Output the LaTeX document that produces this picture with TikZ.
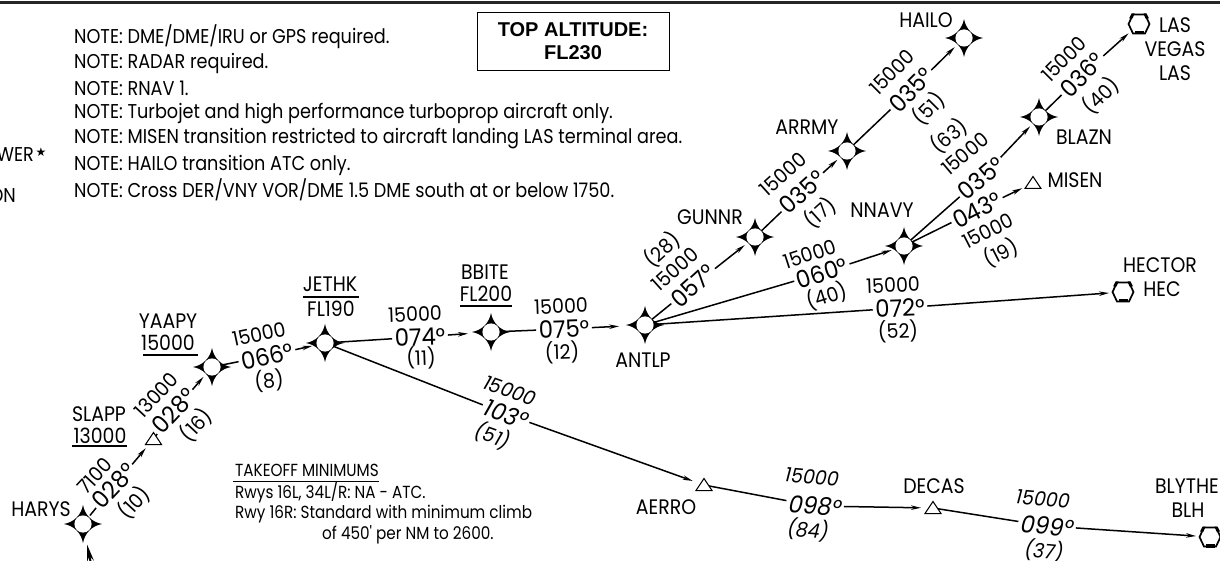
\documentclass[tikz,border=0pt]{standalone}
\usepackage{fontspec}
\usetikzlibrary{arrows.meta,calc}
\setmainfont{Liberation Sans}
\newfontfamily\fut[FakeStretch=0.95]{Poppins}
\newfontfamily\futname[FakeStretch=0.9]{Poppins}
\newfontfamily\futnote[FakeStretch=0.883]{Poppins}
\newfontfamily\futsmall[FakeStretch=0.87]{Poppins}
\newfontfamily\dejavu{DejaVu Sans}
\newcommand{\fs}[1]{\fontsize{#1pt}{#1pt}\selectfont}
\tikzset{
  wpt/.style={font=\futname\fs{21},inner sep=0pt,text=black},
  notes/.style={font=\futnote\fs{20},inner sep=0pt,anchor=west},
  small/.style={font=\futsmall\fs{17.5},inner sep=0pt,anchor=west},
  crs/.style={font=\fut\fs{24},inner sep=2.5pt},
  alt/.style={font=\fut\fs{20},inner sep=0pt},
  leg/.style={line width=1.5pt,draw=black},
  legarrow/.style={leg,-{Stealth[length=10pt,width=4.5pt]}},
  toFix/.style={legarrow,shorten >=13pt},
  toNav/.style={legarrow,shorten >=12pt},
  fixstar/.pic={
    \fill[black] (19,0) .. controls (9,1.8) and (1.8,9) .. (0,19)
       .. controls (-1.8,9) and (-9,1.8) .. (-19,0)
       .. controls (-9,-1.8) and (-1.8,-9) .. (0,-19)
       .. controls (1.8,-9) and (9,-1.8) .. (19,0) -- cycle;
    \fill[white] (0,0) circle (8.6);
  },
  navtri/.pic={
    \draw[fill=white,line width=1pt,line join=miter] (-8,-5.5) -- (8,-5.5) -- (0,6.5) -- cycle;
  },
  navhex/.pic={
    \draw[fill=white,line width=1.7pt] (-10.5,0) -- (-6,-9.5) -- (6,-9.5) -- (10.5,0) -- (6,9.5) -- (-6,9.5) -- cycle;
    \fill[black] (-4.5,-10.5) rectangle (4.5,-7);
    \fill[black] (-7.5,10.5) -- (-4.5,10.5) -- (-6.5,5.5) -- (-10,5.5) -- cycle;
    \fill[black] (7.5,10.5) -- (4.5,10.5) -- (6.5,5.5) -- (10,5.5) -- cycle;
  }
}
% helpers taking pixel coordinates measured from the top left
\newcommand{\Pt}[3]{\coordinate (#1) at (#2,560-#3);}
\newcommand{\Crs}[5]{\node[crs,rotate=#2] (#1) at (#3,560-#4) {#5};}
\newcommand{\Sub}[5]{\node[alt,rotate=#2] (#1) at (#3,560-#4) {#5};}
\newcommand{\Nm}[4]{\node[wpt] (#1) at (#2,560-#3) {#4};}
\begin{document}
\begin{tikzpicture}[x=1pt,y=1pt]
\useasboundingbox (0,0) rectangle (1220,560);
\fill[white] (0,0) rectangle (1220,560);
% top border
\coordinate (bl) at (0,557); \coordinate (br) at (1220,557);
\draw[line width=3pt,black!85] (bl) -- (br);

% position points
\Pt{HARYS}{83}{524} \Pt{SLAPP}{153.5}{439} \Pt{YAAPY}{212}{367}
\Pt{JETHK}{325}{343} \Pt{BBITE}{491}{332} \Pt{ANTLP}{645}{325}
\Pt{GUNNR}{755}{237} \Pt{ARRMY}{847}{151} \Pt{HAILO}{964}{38}
\Pt{NNAVY}{904}{246} \Pt{BLAZN}{1039}{117} \Pt{LASV}{1139}{24}
\Pt{MISEN}{1033}{183} \Pt{HEC}{1123}{292} \Pt{AERRO}{704}{485}
\Pt{DECAS}{933}{508} \Pt{BLH}{1210}{537} \Pt{arrowend}{91}{564}

% notes
\node[notes] (n1) at (74,560-37) {NOTE: DME/DME/IRU or GPS required.};
\node[notes] (n2) at (74,560-63) {NOTE: RADAR required.};
\node[notes] (n3) at (74,560-88) {NOTE: RNAV 1.};
\node[notes] (n4) at (74,560-114) {NOTE: Turbojet and high performance turboprop aircraft only.};
\node[notes] (n5) at (74,560-139) {NOTE: MISEN transition restricted to aircraft landing LAS terminal area.};
\node[notes] (n6) at (74,560-165) {NOTE: HAILO transition ATC only.};
\node[notes] (n7) at (74,560-190) {NOTE: Cross DER/VNY VOR/DME 1.5 DME south at or below 1750.};
\node[notes,anchor=east] (cutA) at (34,560-155) {WER};
\node[inner sep=0pt,font=\dejavu\fs{12}] (cutStar) at (41,560-152) {★};
\node[notes,anchor=east] (cutB) at (16,560-196) {ON};

% top altitude box
\node[draw=black,line width=.9pt,minimum width=192pt,minimum height=58pt,inner sep=0pt,
      font=\bfseries\fs{20},align=center] (topalt) at (573,560-41)
      {TOP ALTITUDE:\\[3pt]FL230};

% takeoff minimums
\node[small] (tk0) at (235,560-470) {TAKEOFF MINIMUMS};
\draw[line width=1pt] (233,560-481) -- (tk0.east |- 0,560-481);
\node[small] (tk1) at (235,560-493) {Rwys 16L, 34L/R: NA - ATC.};
\node[small] (tk2) at (235,560-514) {Rwy 16R: Standard with minimum climb};
\node[small] (tk3) at (322,560-535) {of 450' per NM to 2600.};

% fix names
\Nm{tHARYS}{41}{509}{HARYS}
\Nm{tSLAPP}{99}{414}{SLAPP}
\Nm{aSLAPP}{100}{436}{13000}
\draw[line width=1.2pt] (72,560-446) -- (127,560-446);
\Nm{tYAAPY}{168}{321}{YAAPY}
\Nm{aYAAPY}{168}{343}{15000}
\draw[line width=1.2pt] (143,560-355) -- (198,560-355);
\Nm{tJETHK}{330}{284}{JETHK}
\draw[line width=1.2pt] (303,560-297) -- (359,560-297);
\Nm{aJETHK}{331}{309}{FL190}
\Nm{tBBITE}{485}{272}{BBITE}
\Nm{aBBITE}{486}{294}{FL200}
\draw[line width=1.2pt] (460,560-306) -- (512,560-306);
\Nm{tANTLP}{643}{360}{ANTLP}
\Nm{tGUNNR}{710}{217}{GUNNR}
\Nm{tARRMY}{807}{127}{ARRMY}
\Nm{tNNAVY}{882}{210}{NNAVY}
\Nm{tHAILO}{926}{20}{HAILO}
\Nm{tLAS}{1175}{25}{LAS}
\Nm{tVEGAS}{1175}{49}{VEGAS}
\Nm{tLAS2}{1175}{73}{LAS}
\Nm{tBLAZN}{1084}{137}{BLAZN}
\Nm{tMISEN}{1075}{180}{MISEN}
\Nm{tHECTOR}{1160}{265}{HECTOR}
\Nm{tHEC}{1162}{289}{HEC}
\Nm{tBLYTHE}{1187}{486}{BLYTHE}
\Nm{tBLH}{1188}{510}{BLH}
\Nm{tAERRO}{666}{507}{AERRO}
\Nm{tDECAS}{934}{486}{DECAS}

% leg labels
\Crs{c1}{47}{114}{486}{028°} \Sub{a1}{47}{95}{476}{7100} \Sub{d1}{47}{134}{503}{(10)}
\Crs{c2}{47}{174}{411}{028°} \Sub{a2}{47}{156}{395}{13000} \Sub{d2}{47}{196}{425}{(16)}
\Crs{c3}{12}{267}{356}{066°} \Sub{a3}{12}{259}{334}{15000} \Sub{d3}{5}{269}{381}{(8)}
\Crs{c4}{2}{420}{337}{074°} \Sub{a4}{2}{415}{314}{15000} \Sub{d4}{2}{421}{358}{(11)}
\Crs{c5}{2}{564}{329}{075°} \Sub{a5}{2}{561}{306}{15000} \Sub{d5}{2}{562}{352}{(12)}
\Crs{c6}{-20}{506}{414}{\itshape 103°} \Sub{a6}{-20}{510}{391}{\itshape 15000} \Sub{d6}{-20}{493}{436}{\itshape (51)}
\Crs{c7}{42}{693}{286}{057°} \Sub{a7}{42}{675}{269}{15000} \Sub{d7}{42}{662}{250}{(28)}
\Crs{c8}{42}{802}{192}{035°} \Sub{a8}{42}{783}{174}{15000} \Sub{d8}{42}{820}{213}{(17)}
\Crs{c9}{45}{911}{90}{035°} \Sub{a9}{45}{892}{72}{15000} \Sub{d9}{45}{929}{109}{(51)}
\Crs{c10}{18}{822}{273}{060°} \Sub{a10}{18}{810}{254}{15000} \Sub{d10}{18}{827}{296}{(40)}
\Crs{c11}{2}{900}{308}{072°} \Sub{a11}{2}{893}{285}{15000} \Sub{d11}{2}{898}{331}{(52)}
\Crs{c12}{40}{981}{178}{035°} \Sub{a12}{40}{965}{154}{15000} \Sub{d12}{40}{949}{136}{(63)}
\Crs{c13}{45}{1082}{75}{036°} \Sub{a13}{45}{1064}{59}{15000} \Sub{d13}{45}{1101}{96}{(40)}
\Crs{c14}{27}{977}{210}{043°} \Sub{a14}{27}{988}{231}{15000} \Sub{d14}{27}{1001}{253}{(19)}
\Crs{c15}{-5}{815}{506}{\itshape 098°} \Sub{a15}{-5}{812}{477}{\itshape 15000} \Sub{d15}{-5}{808}{530}{\itshape (84)}
\Crs{c16}{-5}{1047}{526}{\itshape 099°} \Sub{a16}{-5}{1043}{499}{\itshape 15000} \Sub{d16}{-5}{1044}{551}{\itshape (37)}

% legs
\draw[leg,shorten <=11pt] (HARYS) -- (c1);
\draw[toNav] (c1) -- (SLAPP);
\draw[leg] (SLAPP) -- (c2);
\draw[toFix] (c2) -- (YAAPY);
\draw[leg] (YAAPY) -- (c3);
\draw[toFix] (c3) -- (JETHK);
\draw[leg] (JETHK) -- (c4);
\draw[toFix,shorten >=23pt] (c4) -- (BBITE);
\draw[leg] (BBITE) -- (c5);
\draw[toFix,shorten >=26pt] (c5) -- (ANTLP);
\draw[leg] (JETHK) -- (c6);
\draw[toNav] (c6) -- (AERRO);
\draw[leg] (ANTLP) -- (c7);
\draw[toFix] (c7) -- (GUNNR);
\draw[leg] (GUNNR) -- (c8);
\draw[toFix] (c8) -- (ARRMY);
\draw[leg] (ARRMY) -- (c9);
\draw[toFix] (c9) -- (HAILO);
\draw[leg] (ANTLP) -- (c10);
\draw[toFix] (c10) -- (NNAVY);
\draw[leg] (ANTLP) -- (c11);
\draw[toFix,shorten >=14pt] (c11) -- (HEC);
\draw[leg] (NNAVY) -- (c12);
\draw[toFix] (c12) -- (BLAZN);
\draw[leg] (BLAZN) -- (c13);
\draw[toFix,shorten >=14pt] (c13) -- (LASV);
\draw[leg] (NNAVY) -- (c14);
\draw[toNav] (c14) -- (MISEN);
\draw[leg] (AERRO) -- (c15);
\draw[toNav] (c15) -- (DECAS);
\draw[leg] (DECAS) -- (c16);
\draw[toNav,shorten >=14pt] (c16) -- (BLH);
\draw[line width=2pt,-{Stealth[length=17pt,width=7pt]},shorten >=21pt] (arrowend) -- (HARYS);

% symbols
\pic at (HARYS) {fixstar};
\pic at (YAAPY) {fixstar};
\pic at (JETHK) {fixstar};
\pic at (BBITE) {fixstar};
\pic at (ANTLP) {fixstar};
\pic at (GUNNR) {fixstar};
\pic at (ARRMY) {fixstar};
\pic at (HAILO) {fixstar};
\pic at (NNAVY) {fixstar};
\pic at (BLAZN) {fixstar};
\pic at (SLAPP) {navtri};
\pic at (MISEN) {navtri};
\pic at (AERRO) {navtri};
\pic at (DECAS) {navtri};
\pic at (LASV) {navhex};
\pic at (HEC) {navhex};
\pic at (BLH) {navhex};
\end{tikzpicture}
\end{document}
